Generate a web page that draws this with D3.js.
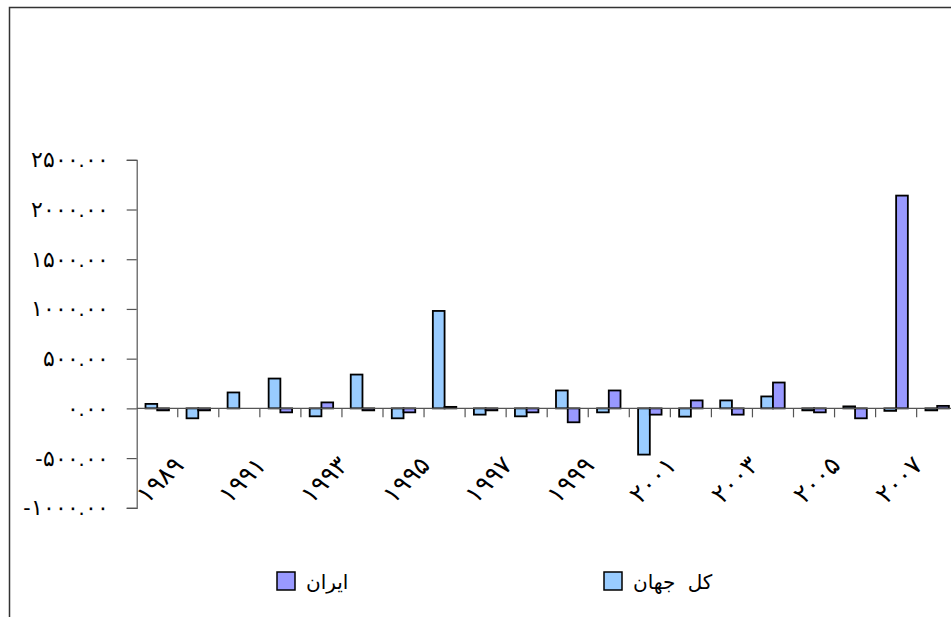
<!DOCTYPE html>
<html>
<head>
<meta charset="UTF-8" />
<style>
  body { margin: 0; background: #fff; }
  svg { display: block; font-family: "DejaVu Sans", sans-serif; }
</style>
</head>
<body>
<svg></svg>
<script src="https://cdn.jsdelivr.net/npm/d3@7"></script>
<script>
    let width = 951,
        height = 617;

    // data
    const years = ["1989", "1990", "1991", "1992", "1993", "1994", "1995", "1996", "1997", "1998",
        "1999", "2000", "2001", "2002", "2003", "2004", "2005", "2006", "2007", "2008"];
    const world = [45, -100, 160, 300, -80, 340, -100, 980, -63, -80, 180, -40, -465, -83, 80, 120, -20, 20, -25, -20];
    const iran = [-20, -20, 0, -40, 60, -20, -40, 15, -20, -40, -140, 180, -63, 80, -63, 260, -40, -100, 2140, 25];
    const yTicks = [-1000, -500, 0, 500, 1000, 1500, 2000, 2500];
    const seriesNames = ["کل جهان", "ایران"];
    const colors = ["#99CCFF", "#9999FF"];

    const fa = "۰۱۲۳۴۵۶۷۸۹";
    function toFa(s) {
        return String(s).replace(/[0-9]/g, (c) => fa[+c]);
    }

    let svg = d3.select("svg").attr("width", width).attr("height", height);

    // outer chart border (right and bottom run off the page)
    svg.append("rect")
        .attr("x", 9.5).attr("y", 7.5)
        .attr("width", 1000).attr("height", 700)
        .attr("fill", "none")
        .attr("stroke", "#333")
        .attr("stroke-width", 1.5);

    let x = d3.scaleBand().domain(years).range([136.7, 957.7]).padding(0);
    let xs = d3.scaleBand().domain([0, 1]).range([0, x.bandwidth()]).paddingInner(0).paddingOuter(0.75);
    let y = d3.scaleLinear().domain([-1000, 2500]).range([507.8, 159.8]);

    // y axis
    let yAxis = svg.append("g")
        .attr("transform", "translate(136.7,0)")
        .call(d3.axisLeft(y).tickValues(yTicks).tickSize(10).tickPadding(18)
            .tickFormat((d) => (d < 0 ? "-" : "") + toFa(d3.format(".2f")(Math.abs(d)))));
    yAxis.select(".domain").attr("stroke", "#555").attr("stroke-width", 1.2);
    yAxis.selectAll(".tick line").attr("stroke", "#555").attr("stroke-width", 1.2);
    yAxis.selectAll(".tick text")
        .attr("fill", "#000")
        .style("font-size", "22px")
        .attr("direction", "ltr");

    // bars
    let groups = svg.append("g").selectAll("g")
        .data(years)
        .enter()
        .append("g")
        .attr("transform", (d) => "translate(" + x(d) + ",0)");

    groups.selectAll("rect")
        .data((d, i) => [world[i], iran[i]])
        .enter()
        .append("rect")
        .attr("x", (d, j) => xs(j))
        .attr("width", xs.bandwidth())
        .attr("y", (d) => Math.min(y(d), y(0)))
        .attr("height", (d) => Math.abs(y(d) - y(0)))
        .attr("fill", (d, j) => colors[j])
        .attr("stroke", "#000")
        .attr("stroke-width", 1.8);

    // category axis at zero
    let xAxis = svg.append("g")
        .attr("transform", "translate(0," + y(0) + ")");
    xAxis.append("line")
        .attr("x1", 136.7).attr("x2", 960)
        .attr("stroke", "#555").attr("stroke-width", 1.2);
    xAxis.selectAll(".cat-tick")
        .data(years)
        .enter()
        .append("line")
        .attr("class", "cat-tick")
        .attr("x1", (d) => x(d) + x.bandwidth())
        .attr("x2", (d) => x(d) + x.bandwidth())
        .attr("y1", 0).attr("y2", 9)
        .attr("stroke", "#555").attr("stroke-width", 1.2);

    // rotated year labels, every second year
    svg.append("g").selectAll("text")
        .data(years.filter((d, i) => i % 2 === 0))
        .enter()
        .append("text")
        .attr("transform", (d) => "translate(" + (x(d) + x.bandwidth() / 2) + ",477) rotate(-45)")
        .attr("text-anchor", "middle")
        .attr("dy", "0.5em")
        .style("font-size", "25px")
        .text((d) => toFa(d));

    // legend
    const legendItems = [
        { name: seriesNames[1], color: colors[1], x: 277 },
        { name: seriesNames[0], color: colors[0], x: 604 }
    ];
    let legend = svg.append("g").selectAll("g")
        .data(legendItems)
        .enter()
        .append("g")
        .attr("transform", (d) => "translate(" + d.x + ",572)");
    legend.append("rect")
        .attr("width", 18).attr("height", 18)
        .attr("fill", (d) => d.color)
        .attr("stroke", "#000")
        .attr("stroke-width", 1.5);
    legend.append("text")
        .attr("x", 29)
        .attr("y", 10)
        .attr("dy", "0.35em")
        .attr("text-anchor", "start")
        .style("font-size", "20px")
        .style("word-spacing", "6px")
        .text((d) => d.name);
</script>
</body>
</html>
